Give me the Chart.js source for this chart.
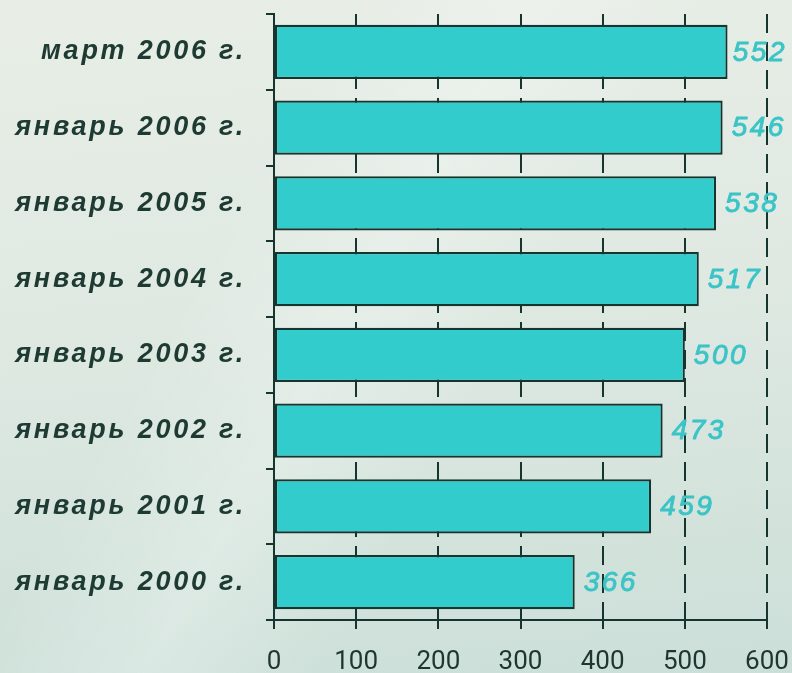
<!DOCTYPE html>
<html>
<head>
<meta charset="utf-8">
<script src="https://cdn.jsdelivr.net/npm/chart.js@4"></script>
<style>
  html, body { margin: 0; padding: 0; }
  body {
    width: 792px; height: 673px; overflow: hidden;
    background:
      linear-gradient(120deg, rgba(255,255,255,0) 30%, rgba(255,255,255,0.25) 45%, rgba(255,255,255,0) 60%),
      linear-gradient(175deg, #e8eee6 0%, #dfe9e2 45%, #cbdfd8 100%);
  }
  #wrap { position: relative; width: 792px; height: 673px; }
</style>
</head>
<body>
<div id="wrap"><canvas id="c"></canvas></div>
<script>
const categories = ['март 2006 г.', 'январь 2006 г.', 'январь 2005 г.', 'январь 2004 г.',
                    'январь 2003 г.', 'январь 2002 г.', 'январь 2001 г.', 'январь 2000 г.'];
const values = [552, 546, 538, 517, 500, 473, 459, 366];
const xTicks = [0, 100, 200, 300, 400, 500, 600];

const dark = '#17352f';
const teal = '#33cccc';
const labelTeal = '#3cc4c6';

function noPad(scale) {
  scale.paddingTop = 0; scale.paddingBottom = 0;
  scale.paddingLeft = 0; scale.paddingRight = 0;
}

const valueLabels = {
  id: 'valueLabels',
  beforeDraw(chart) {
    const y = chart.scales.y;
    if (y && !y._lsPatched) {
      const orig = y.drawLabels;
      y.drawLabels = function (area) {
        const ctx = this.ctx;
        ctx.save();
        ctx.letterSpacing = '2.75px';
        orig.call(this, area);
        ctx.restore();
      };
      y._lsPatched = true;
    }
  },
  afterDatasetsDraw(chart) {
    const ctx = chart.ctx;
    const meta = chart.getDatasetMeta(0);
    ctx.save();
    ctx.font = 'italic 28px "Liberation Sans", Arial, sans-serif';
    ctx.letterSpacing = '2.5px';
    ctx.fillStyle = labelTeal;
    ctx.strokeStyle = labelTeal;
    ctx.lineWidth = 0.9;
    ctx.lineJoin = 'round';
    ctx.textBaseline = 'middle';
    ctx.textAlign = 'left';
    meta.data.forEach((bar, i) => {
      const txt = String(values[i]);
      const w = ctx.measureText(txt).width;
      let x = bar.x + 9;
      if (x + w > 787) x = 787 - w;
      ctx.fillText(txt, x, bar.y + 1);
      ctx.strokeText(txt, x, bar.y + 1);
    });
    ctx.restore();
  }
};

new Chart(document.getElementById('c'), {
  type: 'bar',
  data: {
    labels: categories,
    datasets: [{
      data: values,
      backgroundColor: teal,
      borderColor: dark,
      borderWidth: 2.2,
      borderSkipped: false,
      barPercentage: 0.715,
      categoryPercentage: 1.0
    }]
  },
  options: {
    indexAxis: 'y',
    responsive: true,
    maintainAspectRatio: false,
    animation: false,
    layout: { padding: { top: 14, right: 25, left: 0, bottom: 0 } },
    plugins: { legend: { display: false }, tooltip: { enabled: false } },
    scales: {
      x: {
        type: 'linear',
        min: 0, max: 600,
        afterBuildTicks(scale) { scale.ticks = xTicks.map(v => ({ value: v })); },
        afterFit(scale) { scale.height = 53; noPad(scale); },
        grid: {
          display: true,
          drawOnChartArea: true,
          drawTicks: true,
          color: dark,
          lineWidth: 2,
          tickLength: 9,
          tickColor: dark,
          tickWidth: 2
        },
        border: { display: true, color: dark, width: 2, dash: [19, 9] },
        ticks: {
          color: '#1e3530',
          font: { family: 'Roboto', size: 26, weight: 'normal' },
          padding: 18,
          maxRotation: 0
        }
      },
      y: {
        type: 'category',
        afterFit(scale) { scale.width = 274; noPad(scale); },
        border: { display: true, color: dark, width: 2 },
        grid: {
          display: true,
          offset: true,
          drawOnChartArea: false,
          drawTicks: true,
          tickLength: 8,
          color: dark,
          lineWidth: 2
        },
        ticks: {
          color: '#1d3a33',
          font: { family: '"Liberation Sans", Arial, sans-serif', size: 27, weight: 'bold', style: 'italic' },
          padding: 20
        }
      }
    }
  },
  plugins: [valueLabels]
});
</script>
</body>
</html>
